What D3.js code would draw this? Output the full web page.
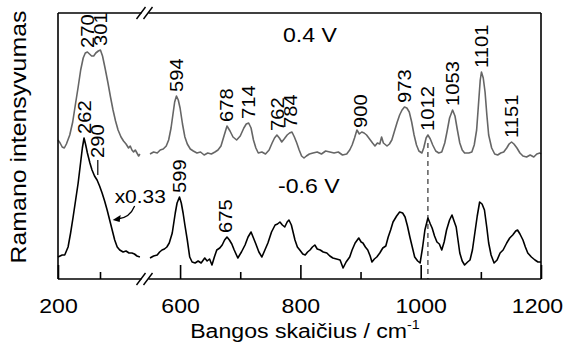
<!DOCTYPE html>
<html><head><meta charset="utf-8">
<script src="https://cdn.jsdelivr.net/npm/d3@7"></script>
<style>
html,body{margin:0;padding:0;background:#fff;}
svg{display:block;font-family:"Liberation Sans",Arial,Helvetica,sans-serif;}
</style></head><body>
<svg id="c" width="565" height="347"></svg>
<script>
// ---- data (Raman shift in cm-1, intensity in arbitrary units) ----
const grayShift = [200,205,210,215,220,228,235,242,248,254,260,265,270,275,280,285,290,296,301,306,312,319,325,331,337,343,350,356,362,368,372,376,380,384,388,392,395,
550,556,562,567,572,577,581,585,588,591,594,597,600,604,608,612,617,622,628,634,640,646,652,658,663,668,673,678,683,688,694,700,706,710,714,718,722,726,730,736,742,748,753,757,761,765,769,773,778,782,786,790,794,798,802,806,810,815,821,828,835,842,849,856,863,870,877,882,886,890,894,898,902,906,910,915,920,924,928,932,935,938,944,948,952,956,961,965,969,973,977,981,985,989,993,997,1002,1005,1009,1012,1016,1020,1025,1030,1035,1040,1044,1048,1053,1057,1061,1065,1069,1073,1080,1085,1089,1093,1096,1099,1101,1104,1107,1110,1113,1118,1123,1128,1133,1138,1143,1147,1151,1155,1160,1165,1170,1176,1182,1188,1193,1198,1200];
const grayIntensity = [140,137,133,132,136,145,158,177,193,210,222,227,228,226,224,224,227,229,230,224,212,197,183,170,159,150,143,139,136,132,134,130,128,130,127,124,126,
126,128,127,130,131,134,140,152,165,178,184,180,172,156,143,136,131,129,127,128,125,127,126,128,130,134,144,154,149,143,140,144,152,156,157,152,140,132,127,128,126,130,137,142,145,142,138,141,145,147,148,143,137,130,124,122,124,126,127,128,126,129,128,127,128,125,126,130,135,142,150,146,148,147,145,141,137,134,137,136,143,137,134,136,140,148,158,165,170,173,172,168,158,145,135,129,127,132,142,145,141,135,129,127,128,137,149,162,170,164,150,137,130,127,127,128,135,150,175,200,208,202,188,165,145,132,126,125,127,128,132,136,138,136,132,127,124,123,125,123,126,127,126];

const blackShift = [200,205,210,216,220,224,230,236,242,248,254,258,262,266,270,276,281,287,293,299,305,311,317,323,329,335,341,347,355,362,369,376,382,388,395,
550,556,562,566,570,574,578,582,587,592,595,599,602,605,608,612,616,620,625,630,635,641,645,649,653,657,661,666,670,674,678,682,686,690,696,702,708,713,718,722,726,731,736,741,746,752,758,762,766,770,774,778,781,785,791,795,799,804,808,812,816,820,824,828,833,838,844,849,854,860,866,871,876,882,886,891,897,901,904,908,912,916,919,923,927,932,937,942,946,950,954,960,965,970,974,978,982,986,990,995,999,1003,1007,1012,1016,1019,1023,1027,1031,1035,1039,1043,1048,1052,1056,1059,1062,1065,1069,1073,1078,1082,1086,1090,1094,1098,1102,1106,1110,1113,1117,1122,1127,1132,1137,1143,1148,1153,1158,1161,1165,1170,1174,1178,1184,1190,1195,1200];
const blackIntensity = [23,24,25,25,29,33,47,63,80,97,118,132,142,135,127,117,110,104,100,94,87,79,70,60,50,40,33,30,28,29,27,27,26,24,23,
22,24,25,28,30,31,33,37,47,67,77,83,77,67,55,40,23,18,17,19,17,22,19,21,15,23,30,32,35,40,43,40,36,30,22,28,35,43,48,42,36,28,23,30,37,48,55,56,58,55,53,58,60,55,40,33,30,26,25,28,30,33,35,31,30,28,27,24,22,21,20,12,18,23,30,37,42,38,37,33,30,24,18,21,23,27,32,34,43,50,58,64,68,67,63,54,43,33,23,19,17,32,50,62,56,52,44,38,36,30,38,50,60,65,58,53,40,27,19,15,18,20,30,47,64,78,76,70,52,37,25,17,20,27,30,37,42,45,49,50,46,40,33,27,23,20,18,18];

const grayPeaks = [270,301,594,678,714,762,784,900,973,1012,1053,1101,1151];
const blackPeaks = [262,599,675];
const blackShoulder = [290];
const xTickLabels = [200,600,800,1000,1200];
const xMinorTicks = [300,700,900,1100];
const segments = [[200,400],[550,1200]];

// ---- layout ----
const W = 565, H = 347;
const L = 58, R = 541, T = 13, B = 279;
const svg = d3.select("#c");
const x = d3.scaleLinear().domain([200,400,550,1200]).range([L,142,150,R]);
const y = d3.scaleLinear().domain([0,267]).range([280,T]);
const SX = 1.1;
const GRAY = "#666666";

function stext(px, py, rot, str, size, anchor, fill, sx){
  const g = svg.append("g").attr("transform",`translate(${px},${py}) rotate(${rot})`);
  const t = g.append("text").attr("transform",`scale(${sx||SX},1)`)
    .attr("font-size",size).attr("text-anchor",anchor||"start").attr("fill",fill||"#000");
  t.text(str);
  return t;
}

// series
function pts(s, v){ return s.map((d,i)=>[d,v[i]]); }
const grayData = pts(grayShift, grayIntensity);
const blackData = pts(blackShift, blackIntensity);
const line = d3.line().x(d=>x(d[0])).y(d=>y(d[1]));
function drawSeries(data, color){
  segments.forEach(([a,b])=>{
    svg.append("path").datum(data.filter(d=>d[0]>=a && d[0]<=b))
      .attr("d",line).attr("fill","none").attr("stroke",color)
      .attr("stroke-width",1.6).attr("stroke-linejoin","round");
  });
}

function interp(data, w){
  for(let i=1;i<data.length;i++){
    if(data[i][0]>=w && data[i-1][0]<=w){
      const t=(w-data[i-1][0])/((data[i][0]-data[i-1][0])||1);
      return data[i-1][1]+t*(data[i][1]-data[i-1][1]);
    }
  }
  return 0;
}
function localMax(data, w){
  const near = data.filter(d=>Math.abs(d[0]-w)<=5);
  return near.length? d3.max(near,d=>d[1]) : interp(data,w);
}
// dashed marker at 1012
svg.append("line").attr("x1",x(1012)).attr("x2",x(1012))
  .attr("y1",y(localMax(grayData,1012))+8).attr("y2",B)
  .attr("stroke","#333").attr("stroke-width",1.2).attr("stroke-dasharray","5,4");

drawSeries(grayData, GRAY);
drawSeries(blackData, "#000");

// frame with axis break
const fr = svg.append("g").attr("stroke","#000").attr("stroke-width",1.6).attr("fill","none");
fr.append("line").attr("x1",L).attr("x2",L).attr("y1",T).attr("y2",B);
fr.append("line").attr("x1",R).attr("x2",R).attr("y1",T).attr("y2",B);
[T,B].forEach(yy=>{
  fr.append("line").attr("x1",L).attr("x2",x(400)-0.5).attr("y1",yy).attr("y2",yy);
  fr.append("line").attr("x1",x(550)-1.5).attr("x2",R).attr("y1",yy).attr("y2",yy);
  [x(400)-1, x(550)-2].forEach(cx=>{
    fr.append("line").attr("x1",cx-4.5).attr("y1",yy+6).attr("x2",cx+4.5).attr("y2",yy-6)
      .attr("stroke-width",1.4);
  });
});

// x axis ticks (inward)
const axMajor = d3.axisBottom(x).tickValues(xTickLabels).tickSize(-14).tickPadding(19)
  .tickFormat(d3.format("d"));
const gMaj = svg.append("g").attr("transform",`translate(0,${B})`).call(axMajor);
gMaj.select(".domain").remove();
gMaj.selectAll("line").attr("stroke","#000").attr("stroke-width",1.6);
gMaj.selectAll("text").attr("font-size",21).attr("fill","#000")
  .attr("font-family",'"Liberation Sans",Arial,sans-serif')
  .attr("transform",d=> d===1200 ? `translate(-4,0) scale(${SX},1)` : `scale(${SX},1)`);
const axMinor = d3.axisBottom(x).tickValues(xMinorTicks).tickSize(-7).tickFormat("");
const gMin = svg.append("g").attr("transform",`translate(0,${B})`).call(axMinor);
gMin.select(".domain").remove();
gMin.selectAll("line").attr("stroke","#000").attr("stroke-width",1.6);

// axis titles
const xt = stext(305, 338, 0, "", 21, "middle");
xt.append("tspan").text("Bangos skaičius / cm");
xt.append("tspan").attr("dy",-9).attr("font-size",13).text("-1");
stext(26, 137, -90, "Ramano intensyvumas", 22, "middle", "#000", 1.13);

// condition labels
stext(283, 42, 0, "0.4 V", 21, "start");
stext(278, 193, 0, "-0.6 V", 21, "start");

// peak labels
function peakLabel(data, w, color){
  const v = localMax(data, w);
  stext(x(w)+6.5, y(v)-4, -90, String(w), 18, "start", color||"#000", 1.12);
}
grayPeaks.forEach(w=>peakLabel(grayData,w));
blackPeaks.forEach(w=>peakLabel(blackData,w));
blackShoulder.forEach(w=>{
  const yy = y(interp(blackData,w));
  const xx = x(w)+2;
  svg.append("line").attr("x1",xx).attr("x2",xx).attr("y1",yy-3).attr("y2",yy-18)
    .attr("stroke","#000").attr("stroke-width",1.2);
  stext(xx+6.5, yy-20, -90, String(w), 18, "start", "#000", 1.12);
});

// scaling annotation
const tipW = 323, tipX = x(tipW)+3, tipY = y(interp(blackData,tipW));
stext(tipX+2, tipY-17, 0, "x0.33", 19, "start");
svg.append("path").attr("d",`M${tipX+22},${tipY-14} Q${tipX+17},${tipY-2} ${tipX+5},${tipY-1}`)
  .attr("fill","none").attr("stroke","#000").attr("stroke-width",1.3);
svg.append("path").attr("d",`M${tipX},${tipY} L${tipX+8},${tipY-5} L${tipX+7},${tipY+2} Z`)
  .attr("fill","#000");
</script>
</body></html>
